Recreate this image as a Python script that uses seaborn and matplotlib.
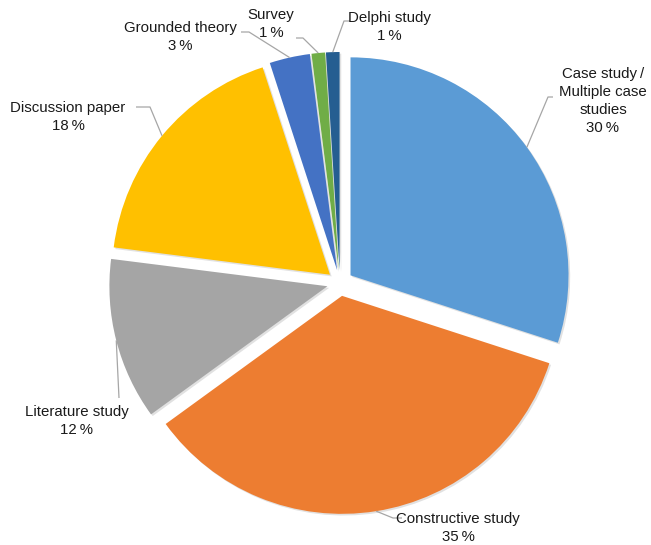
import numpy as np
import matplotlib
matplotlib.use("Agg")
import matplotlib.pyplot as plt
import matplotlib.patheffects as pe
import seaborn as sns

# Research methods used in the reviewed studies (share of studies, %)
methods = ["Case study\u2009/\nMultiple case\nstudies", "Constructive study", "Literature study",
           "Discussion paper", "Grounded theory", "Survey", "Delphi study"]
shares = [30, 35, 12, 18, 3, 1, 1]
colors = ["#5B9BD5", "#ED7D31", "#A5A5A5", "#FFC000", "#4472C4", "#70AD47", "#255E91"]

sns.set_theme(style="white")
plt.rcParams["font.family"] = ["Liberation Sans", "DejaVu Sans"]

W, H = 651, 545
fig = plt.figure(figsize=(W / 100, H / 100), dpi=100)
ax = fig.add_axes([0, 0, 1, 1])

cx, cy, R = 340, H - 283, 218
gap = 13  # outward offset of every slice, in pixels
wedges, _ = ax.pie(shares, colors=colors, startangle=90, counterclock=False,
                   explode=[gap] * len(shares), radius=R, center=(cx, cy),
                   wedgeprops=dict(linewidth=0))
for w in wedges:
    w.set_path_effects([pe.SimplePatchShadow(offset=(1.2, -1.2), shadow_rgbFace="#888888", alpha=0.25),
                        pe.Normal()])

ax.set_xlim(0, W)
ax.set_ylim(0, H)
ax.set_aspect("equal")
ax.axis("off")

# label block centres and leader elbows, in pixels from the top-left corner
label_pos = [(603, 101), (458, 528), (77, 421), (68, 117), (180, 37), (271, 24), (389, 27)]
elbows = [[(548, 97), (553, 97)],
          [(393, 518), (402, 518)],
          [(119, 398)],
          [(150, 107), (136, 107)],
          [(249, 32), (241, 32)],
          [(303, 38), (296, 38)],
          [(344, 21), (350, 21)]]

for w, name, share, (lx, ly), elb in zip(wedges, methods, shares, label_pos, elbows):
    mid = np.deg2rad((w.theta1 + w.theta2) / 2)
    wx, wy = w.center
    sx, sy = wx + w.r * np.cos(mid), wy + w.r * np.sin(mid)
    xs = [sx] + [p[0] for p in elb]
    ys = [sy] + [H - p[1] for p in elb]
    ax.plot(xs, ys, color="#A6A6A6", lw=0.9, solid_capstyle="butt")
    ax.text(lx, H - ly, f"{name}\n{share}\u2009%", ha="center", va="center",
            fontsize=10.8, color="#1a1a1a", linespacing=1.38)

fig.savefig("out.png", dpi=100)
